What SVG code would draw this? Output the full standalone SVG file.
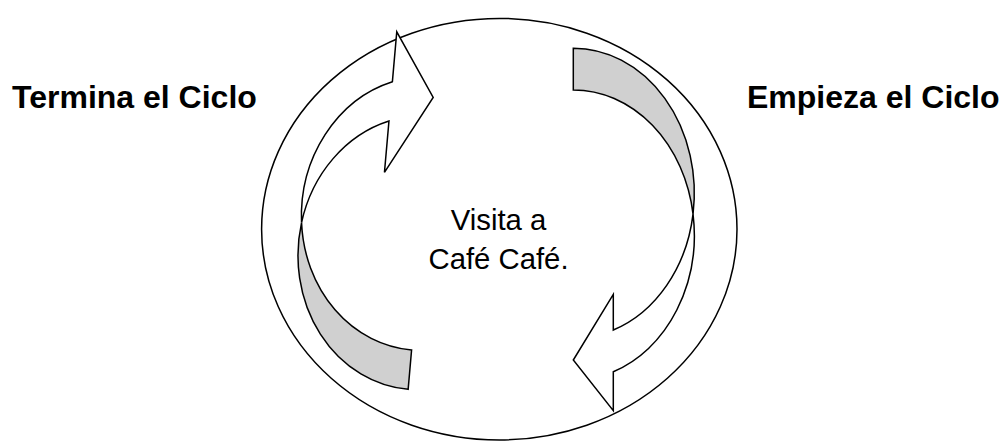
<svg xmlns="http://www.w3.org/2000/svg" width="1004" height="441" viewBox="0 0 1004 441">
<style>
.ln{stroke:#000;stroke-width:1.5;stroke-linejoin:miter}
.back{fill:#d0d0d0}
.front{fill:#fff}
.lbl{font-family:"Liberation Sans",Arial,sans-serif;font-weight:bold;font-size:32px;fill:#000}
.ctr{font-family:"Liberation Sans",Arial,sans-serif;font-size:29.3px;fill:#000;text-anchor:middle}
</style>
<rect width="1004" height="441" fill="#fff"/>
<g id="cycle">
<ellipse cx="499.3" cy="229.2" rx="237.7" ry="210.8" fill="none" class="ln"/>
<text class="ctr" x="498.5" y="230">Visita a</text>
<text class="ctr" x="498.5" y="268.5">Café Café.</text>
</g>
<g id="arrow-left" transform="translate(400 230) rotate(5)">
<path class="ln back" d="M -98.73 1.15 A 122 137.1 0 0 0 22 118.5 L 22 158 A 122 137.1 0 0 1 -98.73 1.15 Z"/>
<path class="ln front" d="M -98.73 1.15 A 122 137.1 0 0 1 -20.5 -147.1 L -20.5 -197.2 L 21.5 -135 L -20.5 -56 L -20.5 -107.6 A 122 137.1 0 0 0 -98.73 1.15 Z"/>
</g>
<g id="arrow-right">
<path class="ln back" d="M 573.3 48.3 A 121 144.9 0 0 1 693.04 214.05 A 121 144.9 0 0 0 573.3 90 Z"/>
<path class="ln front" d="M 693.04 214.05 A 121 144.9 0 0 1 613.3 371.7 L 613.3 410.7 L 573.3 360 L 613.3 294.3 L 613.3 330 A 121 144.9 0 0 0 693.04 214.05 Z"/>
</g>
<g id="label-end">
<text class="lbl" x="12" y="107.7">Termina el Ciclo</text>
</g>
<g id="label-start">
<text class="lbl" x="747" y="107.7">Empieza el Ciclo</text>
</g>
</svg>
